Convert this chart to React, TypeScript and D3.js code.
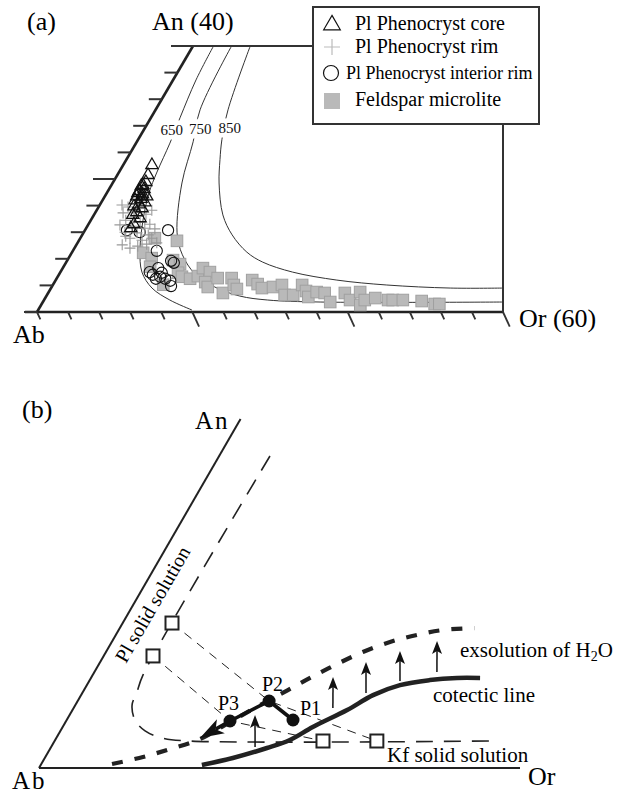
import React from "react";
import * as d3 from "d3";

// ---------------- Panel (a) data : [An, Or] (mol %) ----------------
const CORE: number[][] = [
  [22.1, 3.7], [20.6, 3.95], [19.55, 4.2], [18.95, 3.9], [18.5, 4.5], [18.2, 4.0], [17.7, 4.7],
  [17.4, 4.1], [17.4, 5.4], [17.0, 4.85], [16.8, 4.2], [16.5, 5.6], [16.2, 5.0], [15.9, 4.5],
  [15.6, 5.7], [15.0, 5.3], [14.6, 5.0], [14.1, 6.2], [13.2, 5.85], [12.6, 5.75], [19.1, 4.05],
  [17.9, 4.0], [17.4, 4.75],
];
const RIM: number[][] = [
  [16.1, 2.86], [15.8, 3.79], [15.3, 7.1], [14.9, 3.6], [15.0, 5.1], [14.7, 6.65], [13.8, 4.5],
  [13.5, 6.5], [13.2, 7.9], [13.1, 4.1], [12.9, 5.75], [12.6, 7.55], [12.5, 8.9], [12.0, 5.3],
  [11.9, 6.9], [11.6, 8.5], [11.1, 6.4], [10.8, 8.1], [11.1, 9.2], [10.1, 5.9], [9.6, 7.15],
  [9.9, 8.0], [11.4, 5.7], [14.1, 5.4], [10.2, 9.0], [10.4, 10.2],
];
const INTERIOR: number[][] = [
  [12.3, 10.7], [9.2, 10.8], [12.3, 5.4], [12.0, 7.2], [7.7, 13.4], [7.4, 13.9], [6.6, 12.3],
  [5.6, 12.1], [5.3, 13.2], [5.0, 14.0], [4.7, 14.8], [3.9, 15.3], [5.0, 12.8], [5.9, 13.1],
  [6.0, 11.5],
];
const MICROLITE: number[][] = [
  [10.7, 12.65], [11.1, 9.6], [8.9, 9.2], [8.1, 10.7], [6.8, 11.15], [7.8, 13.6], [7.2, 14.8],
  [5.9, 15.2], [5.3, 16.0], [4.1, 14.2], [5.0, 17.2], [5.4, 18.0], [6.6, 18.05], [6.0, 19.25],
  [4.5, 19.4], [3.76, 20.1], [5.1, 20.7], [2.86, 22.5], [5.1, 22.5], [4.06, 23.3], [3.46, 24.0],
  [4.8, 25.3], [4.2, 26.3], [3.6, 27.15], [3.76, 28.5], [4.06, 29.5], [2.56, 30.6], [2.56, 31.7],
  [4.06, 32.1], [3.16, 33.05], [2.26, 33.8], [3.0, 34.5], [2.86, 35.6], [1.5, 37.0], [2.86, 38.2],
  [1.8, 39.4], [3.0, 40.1], [1.05, 41.1], [1.8, 41.3], [2.1, 42.5], [1.8, 44.3], [1.8, 44.9],
  [1.8, 46.2], [1.65, 48.7], [1.2, 50.6], [1.2, 51.2],
];
const ISO_650: number[][] = [
  [39.85, 2.65], [34.9, 2.95], [29.2, 3.75], [25.4, 4.36], [21.05, 4.88], [17.9, 5.43], [13.8, 6.72],
  [9.3, 8.59], [6.0, 10.5], [3.6, 13.0], [1.8, 16.2], [0.3, 19.8],
];
const ISO_750: number[][] = [
  [39.85, 4.97], [30.4, 5.73], [25.6, 7.25], [19.4, 8.92], [11.9, 12.06], [8.6, 14.4], [5.7, 17.5],
  [3.76, 21.0], [2.4, 24.9], [1.8, 28.8], [1.5, 35.7], [1.5, 59.24],
];
const ISO_850: number[][] = [
  [39.85, 7.4], [30.4, 9.33], [25.9, 10.8], [22.9, 12.06], [19.4, 13.7], [14.6, 16.6], [11.6, 19.3],
  [9.0, 22.5], [7.5, 25.3], [6.0, 29.9], [4.8, 36.2], [4.06, 43.0], [3.6, 51.4], [3.6, 58.2],
];
const ISO_LABELS = ["650", "750", "850"];
const ISO_LABEL_POS: number[][] = [[27.4, 3.6], [27.5, 7.2], [27.7, 10.9]];
const AN_TICKS = d3.range(0, 41, 4);
const OR_TICKS = d3.range(0, 61, 4);
const LEGEND_LABELS = ["Pl Phenocryst core", "Pl Phenocryst rim", "Pl Phenocryst interior rim", "Feldspar microlite"];

// ---------------- Panel (b) data : [An, Or] (%) ----------------
const SOLVUS: number[][] = [
  [74.9, 10.57], [22.3, 10.46], [18.25, 11.25], [15.1, 11.8], [11.5, 14.2], [8.9, 17.6], [7.2, 22.0],
  [6.48, 28.15], [6.48, 90.5],
];
const PL_SQ: number[][] = [[34.8, 10.25], [26.9, 10.25]];
const KF_SQ: number[][] = [[6.48, 55.8], [6.48, 67.0]];
const P_PTS: number[][] = [[11.52, 47.05], [16.08, 39.8], [11.28, 34.07]];
const P_LABELS = ["P1", "P2", "P3"];
const ARROW_TIP: number[] = [7.2, 29.87];
const EXSOL: number[][] = [
  [0.96, 14.7], [2.64, 20.3], [4.56, 24.95], [6.96, 30.0], [11.04, 34.2], [15.1, 38.4], [18.7, 42.4],
  [21.85, 45.8], [24.97, 49.5], [27.85, 53.4], [30.25, 57.85], [31.93, 62.6], [33.13, 67.4], [33.6, 73.8],
];
const COTECTIC: number[][] = [
  [0.72, 33.5], [2.4, 39.1], [4.8, 45.0], [6.72, 48.8], [9.84, 52.0], [13.92, 57.1], [17.5, 60.7],
  [19.9, 65.1], [21.1, 70.7], [21.6, 76.1], [21.6, 80.9],
];
const UP_ARROWS: number[][][] = [
  [[5.04, 42.4], [12.72, 38.55]],
  [[14.4, 53.9], [21.85, 50.2]],
  [[18.0, 58.98], [25.45, 55.26]],
  [[20.9, 64.6], [28.1, 61.0]],
  [[23.05, 71.2], [30.5, 67.5]],
];

const FONT = "'Liberation Serif','Times New Roman',serif";

export default function App() {
  // panel (a) projection
  const aOr = d3.scaleLinear().domain([0, 60]).range([0, 466]);
  const aAnX = d3.scaleLinear().domain([0, 40]).range([0, 156]);
  const aAnY = d3.scaleLinear().domain([0, 40]).range([312, 46]);
  const pa = (an: number, or: number): [number, number] => [37 + aOr(or) + aAnX(an), aAnY(an)];
  const lineA = d3
    .line<number[]>()
    .x((d) => pa(d[0], d[1])[0])
    .y((d) => pa(d[0], d[1])[1])
    .curve(d3.curveCatmullRom.alpha(0.5));

  // panel (b) projection (equilateral ternary)
  const bS = d3.scaleLinear().domain([0, 100]).range([0, 481]);
  const pb = (an: number, or: number): [number, number] => [39 + bS(or + an / 2), 768 - (bS(an) * Math.sqrt(3)) / 2];
  const lineB = d3
    .line<number[]>()
    .x((d) => pb(d[0], d[1])[0])
    .y((d) => pb(d[0], d[1])[1])
    .curve(d3.curveCatmullRom.alpha(0.5));
  const lineBStraight = d3
    .line<number[]>()
    .x((d) => pb(d[0], d[1])[0])
    .y((d) => pb(d[0], d[1])[1]);

  const tri = d3.symbol().type(d3.symbolTriangle).size(64)();
  const triLeg = d3.symbol().type(d3.symbolTriangle).size(120)();

  const ab = pa(0, 0);
  const anTop = pa(40, 0);
  const orEnd = pa(0, 60);
  const legend = { x: 313, y: 7, w: 226, h: 117 };

  // main arrow head
  const p3 = pb(P_PTS[2][0], P_PTS[2][1]);
  const tip = pb(ARROW_TIP[0], ARROW_TIP[1]);
  const ux = tip[0] - p3[0];
  const uy = tip[1] - p3[1];
  const ul = Math.hypot(ux, uy);
  const u = [ux / ul, uy / ul];
  const nrm = [-u[1], u[0]];
  const hl = 24;
  const hw = 8;
  const base = [tip[0] - u[0] * hl, tip[1] - u[1] * hl];
  const notch = [tip[0] - u[0] * hl * 0.75, tip[1] - u[1] * hl * 0.75];
  const mainHead = [
    tip,
    [base[0] + nrm[0] * hw, base[1] + nrm[1] * hw],
    notch,
    [base[0] - nrm[0] * hw, base[1] - nrm[1] * hw],
  ];
  const pathPts = [P_PTS[0], P_PTS[1], P_PTS[2]].map((d) => pb(d[0], d[1]));
  const mainPath = d3.line()([...pathPts, notch as [number, number]]);

  return (
    <svg
      width={627}
      height={797}
      viewBox="0 0 627 797"
      style={{ position: "absolute", left: 0, top: 0, background: "#fff" }}
      fontFamily={FONT}
    >
      <rect x={0} y={0} width={627} height={797} fill="#fff" />
      {/* ================= Panel (a) ================= */}
      <text x={27} y={30} fontSize={26}>(a)</text>
      <text x={152} y={30} fontSize={26}>An (40)</text>
      <text x={13} y={343} fontSize={26}>Ab</text>
      <text x={519} y={327} fontSize={26}>Or (60)</text>

      {/* frame */}
      <line x1={ab[0]} y1={ab[1]} x2={anTop[0]} y2={anTop[1]} stroke="#222" strokeWidth={2.6} />
      <line x1={ab[0] - 12} y1={ab[1]} x2={orEnd[0]} y2={orEnd[1]} stroke="#222" strokeWidth={2.6} />
      <line x1={anTop[0]} y1={anTop[1]} x2={legend.x} y2={anTop[1]} stroke="#333" strokeWidth={2} />
      <line x1={orEnd[0]} y1={orEnd[1]} x2={orEnd[0]} y2={legend.y + legend.h} stroke="#333" strokeWidth={2} />

      {/* ticks */}
      {AN_TICKS.map((an) => {
        const [x, y] = pa(an, 0);
        const len = an % 20 === 0 && an > 0 ? 22 : 13;
        return <line key={"at" + an} x1={x - len} y1={y} x2={x} y2={y} stroke="#333" strokeWidth={2} />;
      })}
      {OR_TICKS.map((or) => {
        const [x, y] = pa(0, or);
        const len = or % 20 === 0 && or > 0 ? 16 : 8;
        return (
          <line key={"ot" + or} x1={x} y1={y} x2={x + len * 0.42} y2={y + len * 0.91} stroke="#333" strokeWidth={1.8} />
        );
      })}

      {/* isotherms */}
      {[ISO_650, ISO_750, ISO_850].map((d, i) => (
        <path key={"iso" + i} d={lineA(d) || ""} fill="none" stroke="#333" strokeWidth={1} />
      ))}
      {ISO_LABELS.map((t, i) => {
        const [x, y] = pa(ISO_LABEL_POS[i][0], ISO_LABEL_POS[i][1]);
        return (
          <text
            key={"isol" + t}
            x={x}
            y={y + 5}
            fontSize={15}
            textAnchor="middle"
            stroke="#fff"
            strokeWidth={9}
            paintOrder="stroke"
            fill="#111"
          >
            {t}
          </text>
        );
      })}

      {/* data */}
      {MICROLITE.map((d, i) => {
        const [x, y] = pa(d[0], d[1]);
        return <rect key={"m" + i} x={x - 5.8} y={y - 5.8} width={11.6} height={11.6} fill="#b9b9b9" stroke="#a0a0a0" strokeWidth={1} />;
      })}
      {INTERIOR.map((d, i) => {
        const [x, y] = pa(d[0], d[1]);
        return <circle key={"c" + i} cx={x} cy={y} r={5.6} fill="none" stroke="#111" strokeWidth={1.1} />;
      })}
      {RIM.map((d, i) => {
        const [x, y] = pa(d[0], d[1]);
        return (
          <path key={"r" + i} d={`M${x - 5.5},${y}H${x + 5.5}M${x},${y - 5.5}V${y + 5.5}`} stroke="#999" strokeWidth={1.1} />
        );
      })}
      {CORE.map((d, i) => {
        const [x, y] = pa(d[0], d[1]);
        return <path key={"t" + i} d={tri || ""} transform={`translate(${x},${y})`} fill="none" stroke="#111" strokeWidth={1.3} />;
      })}

      {/* legend */}
      <rect x={legend.x} y={legend.y} width={legend.w} height={legend.h} fill="#fff" stroke="#333" strokeWidth={2} />
      <path d={triLeg || ""} transform="translate(332,25)" fill="none" stroke="#111" strokeWidth={1.2} />
      <path d="M324,47H340M332,39V55" stroke="#bbb" strokeWidth={1.2} />
      <circle cx={331} cy={73} r={7.5} fill="none" stroke="#111" strokeWidth={1.2} />
      <rect x={324} y={93} width={16} height={16} fill="#b9b9b9" />
      <text x={355} y={30} fontSize={20}>{LEGEND_LABELS[0]}</text>
      <text x={355} y={53} fontSize={20}>{LEGEND_LABELS[1]}</text>
      <text x={346} y={79} fontSize={18}>{LEGEND_LABELS[2]}</text>
      <text x={355} y={106} fontSize={20}>{LEGEND_LABELS[3]}</text>

      {/* ================= Panel (b) ================= */}
      <text x={22} y={418} fontSize={26}>(b)</text>
      <text x={195} y={429} fontSize={25} letterSpacing={2}>An</text>
      <text x={12} y={789} fontSize={25} letterSpacing={2}>Ab</text>
      <text x={528} y={785} fontSize={26}>Or</text>

      {(() => {
        const a0 = pb(0, 0);
        const a1 = pb(83.8, 0);
        const o1 = pb(0, 100);
        return (
          <g>
            <line x1={a0[0]} y1={a0[1]} x2={a1[0]} y2={a1[1]} stroke="#222" strokeWidth={2} />
            <line x1={a0[0]} y1={a0[1]} x2={o1[0]} y2={o1[1]} stroke="#222" strokeWidth={2} />
          </g>
        );
      })()}

      {/* solvus (Pl + Kf solid solution) */}
      <path d={lineB(SOLVUS) || ""} fill="none" stroke="#222" strokeWidth={1.6} strokeDasharray="17 11" />

      {/* tie lines */}
      <path d={lineBStraight([PL_SQ[0], P_PTS[1], KF_SQ[1]]) || ""} fill="none" stroke="#222" strokeWidth={1} strokeDasharray="9 7" />
      <path d={lineBStraight([PL_SQ[1], P_PTS[2], KF_SQ[0]]) || ""} fill="none" stroke="#222" strokeWidth={1} strokeDasharray="9 7" />

      {/* exsolution curve */}
      <path d={lineB(EXSOL) || ""} fill="none" stroke="#222" strokeWidth={4.2} strokeDasharray="11 12" />
      {/* cotectic */}
      <path d={lineB(COTECTIC) || ""} fill="none" stroke="#222" strokeWidth={4.5} />

      {/* upward arrows */}
      {UP_ARROWS.map((a, i) => {
        const s = pb(a[0][0], a[0][1]);
        const e = pb(a[1][0], a[1][1]);
        const L = 13;
        const w = 5;
        return (
          <g key={"ua" + i}>
            <line x1={s[0]} y1={s[1]} x2={e[0]} y2={e[1] + 8} stroke="#111" strokeWidth={1.5} />
            <path d={`M${e[0]},${e[1]}L${e[0] + w},${e[1] + L}L${e[0]},${e[1] + L - 3}L${e[0] - w},${e[1] + L}Z`} fill="#111" />
          </g>
        );
      })}

      {/* squares */}
      {[...PL_SQ, ...KF_SQ].map((d, i) => {
        const [x, y] = pb(d[0], d[1]);
        return <rect key={"sq" + i} x={x - 6.5} y={y - 6.5} width={13} height={13} fill="#fff" stroke="#222" strokeWidth={2} />;
      })}

      {/* path of melt */}
      <path d={mainPath || ""} fill="none" stroke="#111" strokeWidth={3.6} strokeLinejoin="round" />
      <path d={d3.line()(mainHead as [number, number][]) + "Z"} fill="#111" />
      {P_PTS.map((d, i) => {
        const [x, y] = pb(d[0], d[1]);
        return <circle key={"p" + i} cx={x} cy={y} r={6.5} fill="#111" />;
      })}
      <text x={300} y={715} fontSize={20}>{P_LABELS[0]}</text>
      <text x={262} y={691} fontSize={20}>{P_LABELS[1]}</text>
      <text x={218} y={710} fontSize={20}>{P_LABELS[2]}</text>

      {/* labels */}
      <text x={0} y={0} fontSize={20} transform="translate(126,664) rotate(-60)">Pl solid solution</text>
      <text x={460} y={657} fontSize={21}>
        exsolution of H<tspan fontSize={14} dy={4}>2</tspan>
        <tspan dy={-4}>O</tspan>
      </text>
      <text x={433} y={702} fontSize={21}>cotectic line</text>
      <text x={387} y={762} fontSize={21}>Kf solid solution</text>
    </svg>
  );
}
